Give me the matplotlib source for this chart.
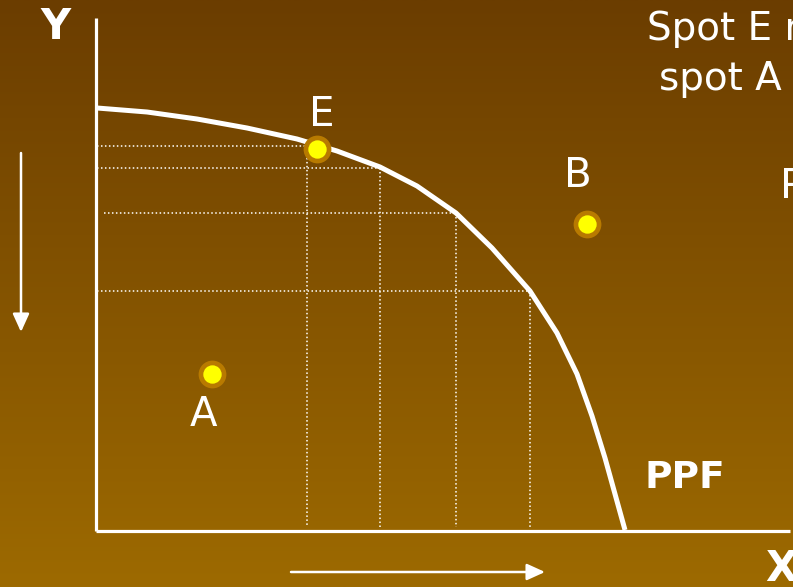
import numpy as np
import matplotlib.pyplot as plt

# PPF curve (units measured from the origin of the diagram)
ppf_x = [0, 50, 100, 150, 200, 240, 283, 320, 359, 395, 433, 460, 480, 495, 508, 518, 528]
ppf_y = [422, 418, 411, 402, 391, 379, 363, 344, 317, 282, 239, 197, 156, 114, 72, 36, 0]

# points on the curve where the dotted guides are drawn
guide_x = [210, 283, 359, 433]
guide_y = [384, 362, 317, 239]
guide_start = [0, 0, 7, 0]

# labelled spots
spot_names = ['A', 'E', 'B']
spot_x = [115, 220, 490]
spot_y = [156, 381, 306]

bg_top = np.array([107, 61, 0]) / 255
bg_bottom = np.array([157, 106, 0]) / 255

fig = plt.figure(figsize=(7.93, 5.87), dpi=100)
ax = fig.add_axes([0, 0, 1, 1])
ax.set_xlim(-97, 696)
ax.set_ylim(-57, 530)
ax.axis('off')

# vertical gradient background
t = np.linspace(0, 1, 256)[:, None]
grad = bg_top * (1 - t[..., None]) + bg_bottom * t[..., None]
ax.imshow(grad, extent=(-97, 696, -57, 530), aspect='auto', zorder=0)

# axes of the diagram
ax.plot([-1, -1], [-1, 512], color='white', lw=2.3, solid_capstyle='butt', zorder=3)
ax.plot([-1, 693], [-1, -1], color='white', lw=2.3, solid_capstyle='butt', zorder=3)

# dotted guides
for gx, gy, gs in zip(guide_x, guide_y, guide_start):
    ax.plot([gs, gx], [gy, gy], color='white', lw=1.1, ls=(0, (1, 1.6)), zorder=2)
    ax.plot([gx, gx], [gy, 3], color='white', lw=1.1, ls=(0, (1, 1.6)), zorder=2)

# PPF curve
ax.plot(ppf_x, ppf_y, color='white', lw=3.6, solid_capstyle='butt',
        solid_joinstyle='round', zorder=4)

# spots
ax.scatter(spot_x, spot_y, s=400, color='#B87A00', zorder=5, linewidths=0)
ax.scatter(spot_x, spot_y, s=175, color='#FFFF00', zorder=6, linewidths=0)

# direction arrows
arrow = dict(arrowstyle='-|>,head_width=0.5,head_length=1.1', color='white', lw=1.8,
             shrinkA=0, shrinkB=0)
ax.annotate('', xy=(-76, 198), xytext=(-76, 377), arrowprops=arrow)
ax.annotate('', xy=(448, -42), xytext=(194, -42), arrowprops=arrow)

# labels
ax.text(-42, 503, 'Y', color='white', fontsize=30, fontweight='bold', ha='center', va='center')
ax.text(668, -18, 'X', color='white', fontsize=30, fontweight='bold', ha='left', va='top')
ax.text(225, 415, 'E', color='white', fontsize=29, ha='center', va='center')
ax.text(106, 115, 'A', color='white', fontsize=29, ha='center', va='center')
ax.text(481, 354, 'B', color='white', fontsize=29, ha='center', va='center')
ax.text(548, 52, 'PPF', color='white', fontsize=27, fontweight='bold', ha='left', va='center')
ax.text(550, 490, 'Spot E r', color='white', fontsize=28, ha='left', va='baseline')
ax.text(562, 440, 'spot A', color='white', fontsize=28, ha='left', va='baseline')
ax.text(683, 343, 'P', color='white', fontsize=29, ha='left', va='center')

fig.savefig('out.png', dpi=100)
